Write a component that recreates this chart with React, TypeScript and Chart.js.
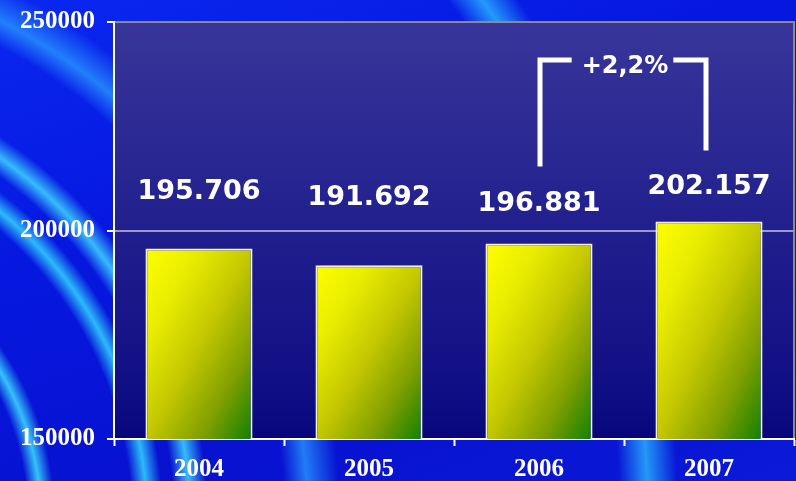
import React, { useEffect, useRef } from "react";
import { Chart, registerables } from "chart.js";

Chart.register(...registerables);

const categories = ["2004", "2005", "2006", "2007"];
const values = [195706, 191692, 196881, 202157];
const valueLabels = ["195.706", "191.692", "196.881", "202.157"];
const yMin = 150000;
const yMax = 250000;
const yStep = 50000;
const changeLabel = "+2,2%";

const BAR_PCT = 0.63;
const labelLift = [56, 67, 40, 35];

const plotBg = {
  id: "plotBg",
  beforeDraw(chart: any) {
    const { ctx, chartArea } = chart;
    const { left, top, right, bottom } = chartArea;
    const g = ctx.createLinearGradient(0, top, 0, bottom);
    g.addColorStop(0, "#38369a");
    g.addColorStop(0.92, "#0e0c82");
    g.addColorStop(1, "#06067a");
    ctx.save();
    ctx.fillStyle = g;
    ctx.fillRect(left, top, right - left, bottom - top);
    ctx.strokeStyle = "#8c8c8c";
    ctx.lineWidth = 2;
    ctx.beginPath();
    ctx.moveTo(left, top);
    ctx.lineTo(right, top);
    ctx.lineTo(right, bottom);
    ctx.stroke();
    ctx.restore();
  },
};

const labelsPlugin = {
  id: "valueLabels",
  afterDatasetsDraw(chart: any) {
    const { ctx, chartArea } = chart;
    const meta = chart.getDatasetMeta(0);
    ctx.save();
    ctx.fillStyle = "#ffffff";
    ctx.font = "bold 27px 'DejaVu Sans'";
    ctx.textAlign = "center";
    ctx.textBaseline = "middle";
    const ys: number[] = [];
    meta.data.forEach((bar: any, i: number) => {
      const y = bar.y - labelLift[i];
      ys.push(y);
      ctx.fillText(valueLabels[i], bar.x, y);
    });
    // bracket between 2006 and 2007
    const a = meta.data[2];
    const b = meta.data[3];
    if (a && b) {
      const lx = a.x + 1;
      const rx = b.x - 3;
      const topY = chartArea.top + 38;
      const lBottom = ys[2] - 37;
      const rBottom = ys[3] - 36;
      ctx.font = "bold 24px 'DejaVu Sans'";
      const tw = ctx.measureText(changeLabel).width;
      const mid = (lx + rx) / 2 + 2;
      ctx.fillText(changeLabel, mid, topY + 7);
      ctx.strokeStyle = "#ffffff";
      ctx.lineWidth = 5;
      ctx.lineCap = "butt";
      ctx.lineJoin = "miter";
      ctx.beginPath();
      ctx.moveTo(lx, lBottom);
      ctx.lineTo(lx, topY);
      ctx.lineTo(mid - tw / 2 - 10, topY);
      ctx.stroke();
      ctx.beginPath();
      ctx.moveTo(mid + tw / 2 + 5, topY);
      ctx.lineTo(rx, topY);
      ctx.lineTo(rx, rBottom);
      ctx.stroke();
    }
    ctx.restore();
  },
};

function barGradient(c: any) {
  const chart = c.chart;
  const area = chart.chartArea;
  if (!area || c.raw === undefined) return "#ffff00";
  const xs = chart.scales.x;
  const ys = chart.scales.y;
  const cx = xs.getPixelForValue(c.dataIndex);
  const w = (xs.width / categories.length) * BAR_PCT;
  const top = ys.getPixelForValue(c.raw);
  const bottom = ys.getPixelForValue(ys.min);
  const h = Math.max(1, bottom - top);
  const cy = (top + bottom) / 2;
  const k = (w * h) / (w * w + h * h);
  const dx = h * k;
  const dy = w * k;
  const g = chart.ctx.createLinearGradient(cx - dx, cy - dy, cx + dx, cy + dy);
  g.addColorStop(0, "#ffff00");
  g.addColorStop(0.25, "#e8ec00");
  g.addColorStop(0.5, "#c4c800");
  g.addColorStop(0.75, "#82a000");
  g.addColorStop(1, "#108000");
  return g;
}

export default function App() {
  const ref = useRef<HTMLCanvasElement | null>(null);

  useEffect(() => {
    document.body.style.margin = "0";
    if (!ref.current) return;
    const chart = new Chart(ref.current, {
      type: "bar",
      data: {
        labels: categories,
        datasets: [
          {
            data: values,
            backgroundColor: barGradient as any,
            borderColor: "#f0f0f6",
            borderWidth: 2,
            borderSkipped: false,
            barPercentage: BAR_PCT,
            categoryPercentage: 1,
          },
        ],
      },
      options: {
        animation: false,
        responsive: false,
        devicePixelRatio: 1,
        layout: { padding: { top: 22, right: 2, left: 0, bottom: 0 } },
        plugins: {
          legend: { display: false },
          tooltip: { enabled: false },
        },
        scales: {
          x: {
            offset: true,
            grid: {
              offset: true,
              drawOnChartArea: false,
              drawTicks: true,
              tickLength: 7,
              tickColor: "#ffffff",
              tickWidth: 2,
            },
            border: { color: "#ffffff", width: 2 },
            ticks: {
              color: "#ffffff",
              padding: 9,
              font: { family: "'Liberation Serif'", size: 25, weight: "bold" },
            },
            afterFit: (s: any) => {
              s.height = 42;
            },
          },
          y: {
            min: yMin,
            max: yMax,
            ticks: {
              stepSize: yStep,
              color: "#ffffff",
              padding: 12,
              font: { family: "'Liberation Serif'", size: 25, weight: "bold", lineHeight: 0.5 },
              callback: (v: any) => String(v),
            },
            grid: {
              color: (c: any) =>
                c.tick && c.tick.value === 200000 ? "#9a9ac4" : "rgba(0,0,0,0)",
              lineWidth: 2,
              tickLength: 7,
              tickColor: "#ffffff",
              tickWidth: 2,
            },
            border: { color: "#ffffff", width: 2 },
            afterFit: (s: any) => {
              s.width = 114;
            },
          },
        },
      },
      plugins: [plotBg, labelsPlugin],
    });
    return () => chart.destroy();
  }, []);

  const bg =
    "radial-gradient(circle at -250px 520px, transparent 278px, rgba(60,225,255,0.85) 291px, transparent 305px, transparent 382px, rgba(50,215,255,0.85) 397px, transparent 413px, transparent 424px, rgba(60,205,255,0.9) 440px, transparent 458px, transparent 535px, rgba(40,150,255,0.8) 558px, transparent 590px, transparent 870px, rgba(40,175,255,0.85) 898px, transparent 928px)," +
    "linear-gradient(160deg, #0a28f0 0%, #0618e0 35%, #0812d0 70%, #0a1ad8 100%)";

  return (
    <div style={{ width: 796, height: 481, position: "relative", background: bg, overflow: "hidden" }}>
      <canvas ref={ref} width={796} height={481} style={{ display: "block" }} />
    </div>
  );
}
